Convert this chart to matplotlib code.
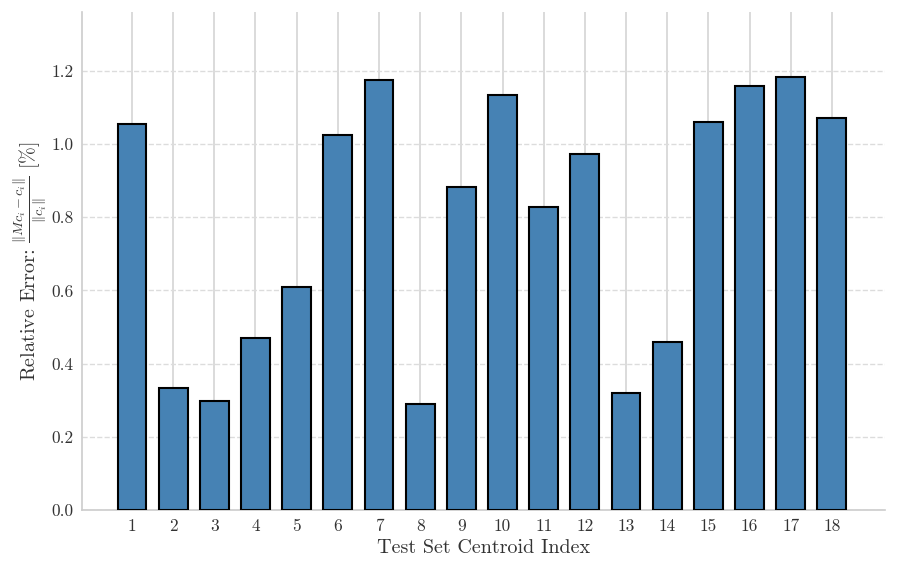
import matplotlib
matplotlib.use("Agg")
import matplotlib.pyplot as plt

plt.rcParams['font.family'] = 'serif'
plt.rcParams['font.serif'] = ['cmr10']
plt.rcParams['mathtext.fontset'] = 'cm'
plt.rcParams['axes.formatter.use_mathtext'] = True

indices = list(range(1, 19))
errors = [1.055, 0.333, 0.299, 0.469, 0.610, 1.026, 1.175, 0.289, 0.882,
          1.135, 0.829, 0.972, 0.319, 0.460, 1.061, 1.158, 1.183, 1.071]
tick_labels = [str(i) for i in indices]
yticks = [0.0, 0.2, 0.4, 0.6, 0.8, 1.0, 1.2]

fig = plt.figure(figsize=(8.97, 5.72), dpi=100)
ax = fig.add_axes([0.0914, 0.1084, 0.8952, 0.8706])

ax.bar(indices, errors, width=0.7, color='#4682B4', edgecolor='black',
       linewidth=1.5, zorder=3)

ax.set_xlim(-0.214, 19.29)
ax.set_ylim(0, 1.361)
ax.set_xticks(indices)
ax.set_xticklabels(tick_labels)
ax.set_yticks(yticks)
ax.set_yticklabels([f"{v:.1f}" for v in yticks])

ax.set_axisbelow(True)
ax.xaxis.grid(True, color='#d4d4d4', linestyle='-', linewidth=1.2, zorder=0)
ax.yaxis.grid(True, color='#dcdcdc', linestyle='--', linewidth=1.0, zorder=0)

for s in ['top', 'right']:
    ax.spines[s].set_visible(False)
for s in ['left', 'bottom']:
    ax.spines[s].set_color('#cccccc')
    ax.spines[s].set_linewidth(1.2)

ax.tick_params(axis='both', length=0, labelsize=12.5, colors='#333333', pad=6)
ax.set_xlabel('Test Set Centroid Index', fontsize=14.5, color='#333333', labelpad=4)
ax.set_ylabel(r'Relative Error: $\frac{\|Mc_i - c_i\|}{\|c_i\|}$ [%]',
              fontsize=14.5, color='#333333', labelpad=2)

fig.savefig('out.png', dpi=100)
